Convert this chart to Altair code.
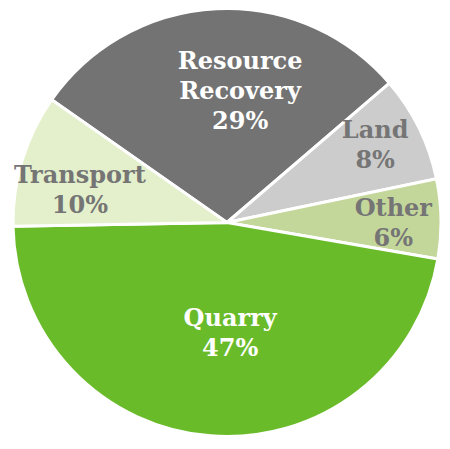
import altair as alt
import pandas as pd
import math

categories = ["Resource Recovery", "Land", "Other", "Quarry", "Transport"]
shares = [29, 8, 6, 47, 10]
label_text = ["Resource\nRecovery\n29%", "Land\n8%", "Other\n6%", "Quarry\n47%", "Transport\n10%"]
colors = ["#737373", "#cccccc", "#c4d79b", "#6abb2a", "#e4f0cb"]
text_colors = ["#ffffff", "#757575", "#757575", "#ffffff", "#757575"]

df = pd.DataFrame({
    "category": categories,
    "share": shares,
    "label": label_text,
    "order": list(range(len(categories))),
})

start = math.radians(-55)
theta_scale = alt.Scale(range=[start, start + 2 * math.pi])
R = 214
k = R / 220
cx, cy = 219, 214.5
LH = 30

base = alt.Chart(df)

pie = base.mark_arc(outerRadius=R, stroke="white", strokeWidth=3).encode(
    theta=alt.Theta("share:Q", stack=True, scale=theta_scale),
    color=alt.Color("category:N", scale=alt.Scale(domain=categories, range=colors), legend=None),
    order=alt.Order("order:Q"),
    x=alt.value(cx),
    y=alt.value(cy),
)

# label styling per slice (radius from centre, small nudges)
label_style = {
    "Resource Recovery": dict(radius=134, dx=20, dy=0),
    "Land": dict(radius=172, dx=-2, dy=-3),
    "Other": dict(radius=171, dx=0, dy=5),
    "Quarry": dict(radius=114, dx=12, dy=1),
    "Transport": dict(radius=154, dx=-4, dy=13),
}

layers = [pie]
for cat, tc, lab in zip(categories, text_colors, label_text):
    st = label_style[cat]
    n_lines = lab.count("\n") + 1
    layers.append(
        base.mark_text(
            font="DejaVu Serif", fontWeight="bold", fontSize=24, lineBreak="\n",
            lineHeight=LH, align="center", baseline="middle", color=tc,
            radius=st["radius"] * k, dx=st["dx"] * k,
            dy=st["dy"] * k - (n_lines - 1) * LH / 2,
        ).encode(
            theta=alt.Theta("share:Q", stack=True, scale=theta_scale),
            order=alt.Order("order:Q"),
            text="label:N",
            x=alt.value(cx),
            y=alt.value(cy),
            opacity=alt.condition(alt.datum.category == cat, alt.value(1), alt.value(0)),
        )
    )

chart = alt.layer(*layers).properties(
    width=434, height=429, padding=0, autosize=alt.AutoSizeParams(type="none")
).configure_view(stroke=None)

chart.save("out.html", embed_options={"renderer": "svg", "actions": False})
